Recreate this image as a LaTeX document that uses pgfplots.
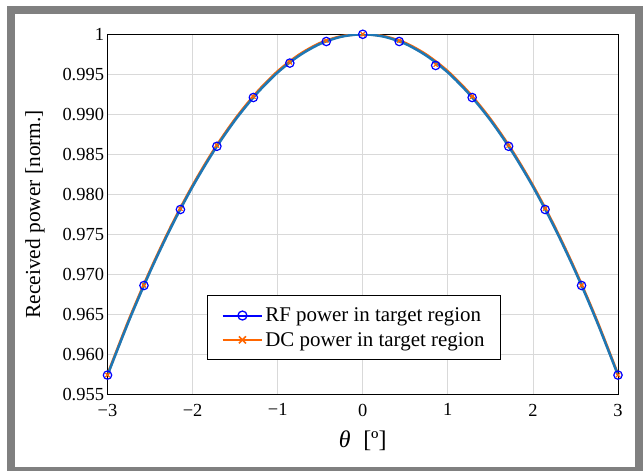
\documentclass[border=0pt]{standalone}
\usepackage{fontspec}
\setmainfont{Liberation Serif}
\usepackage{pgfplots}
\pgfplotsset{compat=1.18}
\definecolor{frame}{RGB}{128,128,128}
\definecolor{steel}{RGB}{31,119,180}
\definecolor{dcorange}{RGB}{255,102,0}
\definecolor{gridc}{RGB}{217,217,217}
\begin{document}
\begin{tikzpicture}[x=1bp,y=1bp]
\useasboundingbox (0,0) rectangle (643,471);
\fill[white] (0,0) rectangle (643,471);
\draw[line width=8bp, frame] (11,0) rectangle (638.5,461);
\begin{axis}[
  at={(107.5bp,76.7bp)}, anchor=south west,
  scale only axis, width=510.5bp, height=360bp,
  xmin=-3, xmax=3, ymin=0.955, ymax=1,
  xtick={-3,-2,-1,0,1,2,3},
  xticklabels={−3,−2,−1,0,1,2,3},
  ytick={0.955,0.96,0.965,0.97,0.975,0.98,0.985,0.99,0.995,1},
  yticklabels={0.955,0.960,0.965,0.970,0.975,0.980,0.985,0.990,0.995,1},
  grid=major, major grid style={gridc, line width=0.8bp},
  major tick length=0pt,
  axis line style={black, line width=1bp},
  ticklabel style={font=\fontsize{18.5}{21}\selectfont},
  xticklabel style={yshift=-6bp},
  label style={font=\fontsize{21.5}{24}\selectfont},
  xlabel={{\fontsize{24}{26}\selectfont{\itshape θ}\;~[º]}},
  ylabel={Received power [norm.]},
  xlabel style={at={(axis description cs:0.5,-0.13)}, anchor=center},
  ylabel style={at={(axis description cs:-0.142,0.5)}, anchor=center},
  legend style={at={(0.483,0.185)}, anchor=center, draw=black, line width=1bp,
    fill=white, font=\fontsize{21}{24}\selectfont, row sep=5bp,
    inner xsep=14bp, inner ysep=10bp},
  legend cell align=left,
  legend image code/.code={\draw[mark repeat=2,mark phase=2] plot coordinates {(0cm,0cm)(0.7cm,0cm)(1.4cm,0cm)};},
]
% DC power curve (orange)
\addplot[dcorange, line width=2.5bp, smooth, forget plot] coordinates {
(-3,0.95749)(-2.75,0.96429)(-2.5,0.97047)(-2.25,0.97608)(-2,0.98111)(-1.75,0.98556)(-1.5,0.98942)(-1.25,0.99269)(-1,0.99538)(-0.75,0.99744)(-0.5,0.99892)(-0.25,0.99976)(0,1.0)
(0.25,0.99976)(0.5,0.99892)(0.75,0.99744)(1,0.99538)(1.25,0.99269)(1.5,0.98942)(1.75,0.98556)(2,0.98111)(2.25,0.97608)(2.5,0.97047)(2.75,0.96429)(3,0.95749)};
% RF power curve (blue)
\addplot[steel, line width=2.5bp, smooth, forget plot] coordinates {
(-3,0.95739)(-2.75,0.96414)(-2.5,0.97032)(-2.25,0.97593)(-2,0.98096)(-1.75,0.98541)(-1.5,0.98927)(-1.25,0.99254)(-1,0.99523)(-0.75,0.99731)(-0.5,0.99881)(-0.25,0.99970)(0,1.0)
(0.25,0.99970)(0.5,0.99881)(0.75,0.99731)(1,0.99523)(1.25,0.99254)(1.5,0.98927)(1.75,0.98541)(2,0.98096)(2.25,0.97593)(2.5,0.97032)(2.75,0.96414)(3,0.95739)};
% DC markers
\addplot[dcorange, only marks, mark=x, mark size=3bp, line width=1.2bp, forget plot] coordinates {
(-3,0.9574)(-2.5714,0.9686)(-2.1429,0.9782)(-1.7143,0.9861)(-1.2857,0.9922)(-0.8571,0.9965)(-0.4286,0.9992)(0,1.0)
(0.4286,0.9992)(0.8571,0.9962)(1.2857,0.9922)(1.7143,0.9861)(2.1429,0.9782)(2.5714,0.9686)(3,0.9574)};
% RF markers
\addplot[blue, only marks, mark=o, mark size=4.2bp, line width=1.2bp, forget plot] coordinates {
(-3,0.9574)(-2.5714,0.9686)(-2.1429,0.9781)(-1.7143,0.9860)(-1.2857,0.9921)(-0.8571,0.9964)(-0.4286,0.9991)(0,1.0)
(0.4286,0.9991)(0.8571,0.9961)(1.2857,0.9921)(1.7143,0.9860)(2.1429,0.9781)(2.5714,0.9686)(3,0.9574)};
\addlegendimage{blue, line width=2bp, mark=o, mark size=4.5bp, mark options={line width=1.3bp}}
\addlegendentry{RF power in target region}
\addlegendimage{dcorange, line width=2bp, mark=x, mark size=5bp, mark options={line width=1.6bp}}
\addlegendentry{DC power in target region}
\end{axis}
\end{tikzpicture}
\end{document}
